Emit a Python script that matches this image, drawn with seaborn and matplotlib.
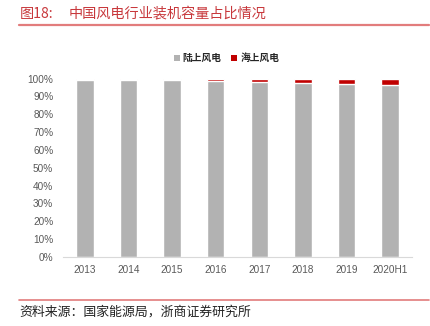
import matplotlib
matplotlib.use("Agg")
import matplotlib.pyplot as plt
import seaborn as sns
import pandas as pd
from matplotlib.patches import Patch
from matplotlib.lines import Line2D

years = ["2013", "2014", "2015", "2016", "2017", "2018", "2019", "2020H1"]
offshore = [0.5, 0.7, 0.9, 1.3, 1.9, 2.6, 3.2, 3.8]          # 海上风电 %
onshore = [100 - v for v in offshore]                          # 陆上风电 %
yticks = [0, 10, 20, 30, 40, 50, 60, 70, 80, 90, 100]

GRAY = "#B2B2B2"
RED = "#C00000"
TITLE_RED = "#C8383C"
LINE_RED = "#E27C7C"

sns.set_style("white")
plt.rcParams["font.family"] = ["Noto Sans CJK SC", "DejaVu Sans"]

df = pd.DataFrame({"year": years, "onshore": onshore,
                   "total": [a + b for a, b in zip(onshore, offshore)]})

fig = plt.figure(figsize=(4.30, 3.26), dpi=100)
ax = fig.add_axes([0.1465, 0.2117, 0.8115, 0.547])

# stacked bars: full height in red, onshore share drawn over it in gray
sns.barplot(data=df, x="year", y="total", color=RED, width=0.4,
            saturation=1, ax=ax)
sns.barplot(data=df, x="year", y="onshore", color=GRAY, width=0.4,
            saturation=1, ax=ax)

ax.set_xlim(-0.5, len(years) - 0.5)
ax.set_ylim(0, 100)
ax.set_yticks(yticks)
ax.set_yticklabels([f"{t}%" for t in yticks])
ax.set_xlabel("")
ax.set_ylabel("")
for s in ["top", "right", "left"]:
    ax.spines[s].set_visible(False)
ax.spines["bottom"].set_color("#D9D9D9")
ax.spines["bottom"].set_linewidth(0.8)
ax.tick_params(axis="both", length=0, colors="#595959", labelsize=7.2)
ax.tick_params(axis="x", pad=6)
ax.tick_params(axis="y", pad=7)
for lbl in ax.get_xticklabels() + ax.get_yticklabels():
    lbl.set_family(["Liberation Sans", "DejaVu Sans"])

handles = [Patch(facecolor=GRAY, edgecolor="none", label="陆上风电"),
           Patch(facecolor=RED, edgecolor="none", label="海上风电")]
fig.legend(handles=handles, loc="center", bbox_to_anchor=(0.527, 0.822),
           ncol=2, frameon=False, handlelength=0.6,
           handleheight=0.6, handletextpad=0.3, columnspacing=1.0,
           prop={"family": ["Noto Sans CJK SC", "DejaVu Sans"],
                 "size": 7, "weight": "bold"})

# header and footer
fig.text(0.046, 0.958, "图18:", color=TITLE_RED, fontsize=10.2,
         va="center", ha="left")
fig.text(0.16, 0.958, "中国风电行业装机容量占比情况", color=TITLE_RED,
         fontsize=10.2, va="center", ha="left")
fig.add_artist(Line2D([0.045, 0.998], [0.922, 0.922], color=LINE_RED,
                      lw=1.6, transform=fig.transFigure))
fig.add_artist(Line2D([0.045, 0.998], [0.081, 0.081], color=LINE_RED,
                      lw=1.2, transform=fig.transFigure))
fig.text(0.046, 0.042, "资料来源：国家能源局，浙商证券研究所", color="#222222",
         fontsize=9.3, va="center", ha="left")

fig.savefig("out.png", dpi=100, facecolor="white")
